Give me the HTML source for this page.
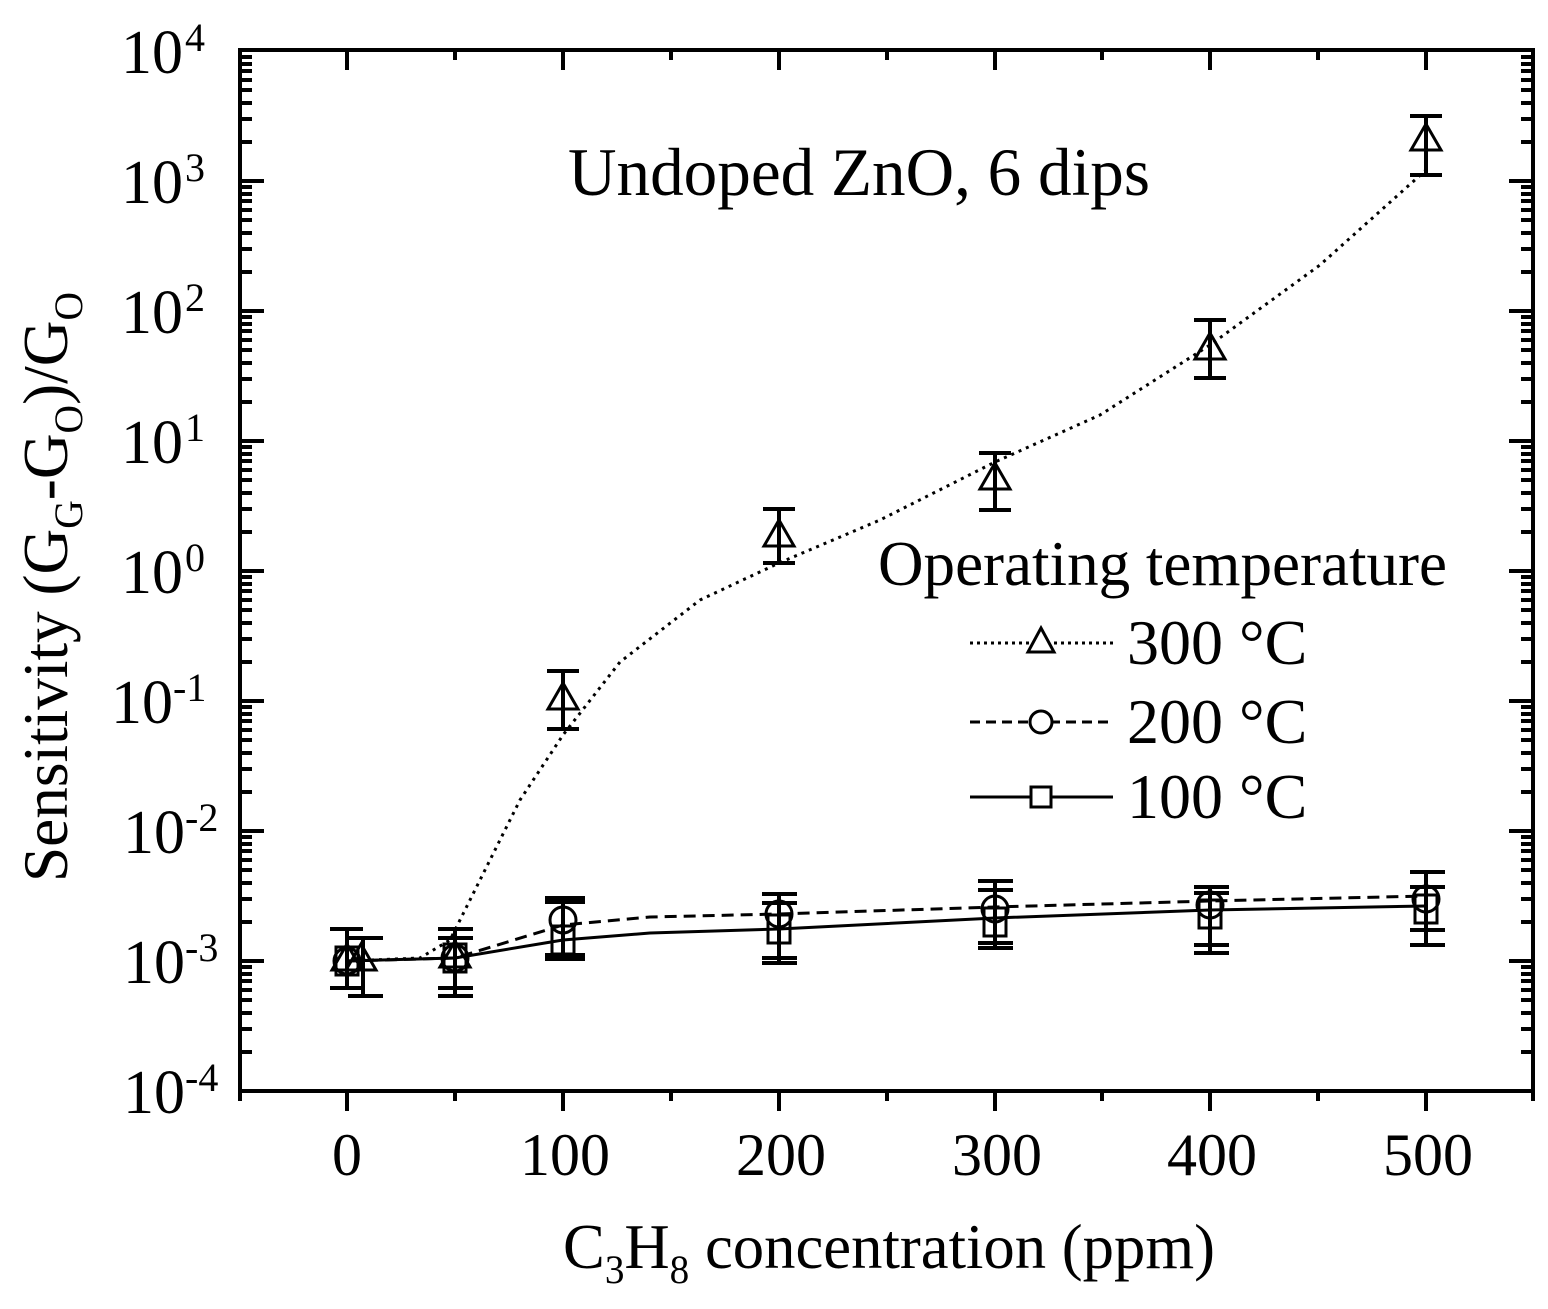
<!DOCTYPE html>
<html><head><meta charset="utf-8"><style>html,body{margin:0;padding:0;background:#fff}svg{display:block}</style></head>
<body>
<svg width="1548" height="1309" viewBox="0 0 1548 1309" xmlns="http://www.w3.org/2000/svg" font-family="'Liberation Serif', serif" fill="#000">
<defs>
  <path id="minL" d="M240 -39h12M240 -62h12M240 -78h12M240 -91h12M240 -101h12M240 -110h12M240 -117h12M240 -124h12" stroke="#000" stroke-width="4" fill="none"/>
  <path id="minR" d="M1533 -39h-12M1533 -62h-12M1533 -78h-12M1533 -91h-12M1533 -101h-12M1533 -110h-12M1533 -117h-12M1533 -124h-12" stroke="#000" stroke-width="4" fill="none"/>
</defs>
<!-- frame -->
<rect x="240" y="50" width="1293" height="1041" fill="none" stroke="#000" stroke-width="4"/>
<!-- minor log ticks -->
<g>
<use href="#minL" y="181"/><use href="#minL" y="311"/><use href="#minL" y="441"/><use href="#minL" y="571"/><use href="#minL" y="701"/><use href="#minL" y="831"/><use href="#minL" y="961"/><use href="#minL" y="1091"/>
<use href="#minR" y="181"/><use href="#minR" y="311"/><use href="#minR" y="441"/><use href="#minR" y="571"/><use href="#minR" y="701"/><use href="#minR" y="831"/><use href="#minR" y="961"/><use href="#minR" y="1091"/>
</g>
<!-- major y ticks -->
<path d="M240 181h24M240 311h24M240 441h24M240 571h24M240 701h24M240 831h24M240 961h24M1533 181h-24M1533 311h-24M1533 441h-24M1533 571h-24M1533 701h-24M1533 831h-24M1533 961h-24" stroke="#000" stroke-width="4"/>
<!-- x ticks bottom -->
<path d="M347 1091v20M563 1091v20M779 1091v20M995 1091v20M1210 1091v20M1426 1091v20M240 1091v10M455 1091v10M671 1091v10M887 1091v10M1102 1091v10M1318 1091v10M1533 1091v10" stroke="#000" stroke-width="4"/>
<!-- x ticks top -->
<path d="M347 50v20M563 50v20M779 50v20M995 50v20M1210 50v20M1426 50v20M455 50v10M671 50v10M887 50v10M1102 50v10M1318 50v10" stroke="#000" stroke-width="4"/>
<!-- y tick labels -->
<g font-size="62">
<text x="183" y="73" text-anchor="end">10</text><text x="185" y="51" font-size="40">4</text>
<text x="183" y="203" text-anchor="end">10</text><text x="185" y="181" font-size="40">3</text>
<text x="183" y="333" text-anchor="end">10</text><text x="185" y="311" font-size="40">2</text>
<text x="183" y="463" text-anchor="end">10</text><text x="185" y="441" font-size="40">1</text>
<text x="183" y="593" text-anchor="end">10</text><text x="185" y="571" font-size="40">0</text>
<text x="173" y="723" text-anchor="end">10</text><text x="173" y="701" font-size="40">-1</text>
<text x="185" y="853" text-anchor="end">10</text><text x="185" y="831" font-size="40">-2</text>
<text x="185" y="983" text-anchor="end">10</text><text x="185" y="961" font-size="40">-3</text>
<text x="185" y="1113" text-anchor="end">10</text><text x="185" y="1091" font-size="40">-4</text>
</g>
<!-- x tick labels -->
<g font-size="60" text-anchor="middle">
<text x="347" y="1175">0</text><text x="565" y="1175">100</text><text x="781" y="1175">200</text><text x="997" y="1175">300</text><text x="1212" y="1175">400</text><text x="1428" y="1175">500</text>
</g>
<!-- axis titles -->
<text x="563" y="1268" font-size="64" textLength="652" lengthAdjust="spacingAndGlyphs">C<tspan font-size="40" dy="15">3</tspan><tspan dy="-15">H</tspan><tspan font-size="40" dy="15">8</tspan><tspan dy="-15"> concentration (ppm)</tspan></text>
<text transform="translate(67,882) rotate(-90)" font-size="64" textLength="590" lengthAdjust="spacingAndGlyphs">Sensitivity (G<tspan font-size="40" dy="15">G</tspan><tspan dy="-15">-G</tspan><tspan font-size="40" dy="15">O</tspan><tspan dy="-15">)/G</tspan><tspan font-size="40" dy="15">O</tspan></text>
<!-- title -->
<text x="568" y="195" font-size="68" textLength="582" lengthAdjust="spacingAndGlyphs">Undoped ZnO, 6 dips</text>
<!-- legend -->
<text x="878" y="585" font-size="64" textLength="569" lengthAdjust="spacingAndGlyphs">Operating temperature</text>
<g font-size="64">
<text x="1127" y="664">300 °C</text>
<text x="1127" y="743">200 °C</text>
<text x="1127" y="818">100 °C</text>
</g>
<g fill="none" stroke="#000" stroke-width="3">
<line x1="970" y1="643" x2="1113" y2="643" stroke-dasharray="3,4"/>
<line x1="970" y1="722" x2="1113" y2="722" stroke-dasharray="10,6"/>
<line x1="970" y1="797" x2="1113" y2="797"/>
<path d="M1041 628 L1054 652 L1028 652 Z" fill="#fff"/>
<circle cx="1041" cy="722" r="11" fill="#fff"/>
<rect x="1031" y="787" width="20" height="20" fill="#fff"/>
</g>
<!-- curves -->
<g fill="none" stroke="#000" stroke-width="3" stroke-linejoin="round">
<polyline points="347,961 420,958 450,940 480,880 520,800 563,735 620,662 700,600 779,563 880,520 995,462 1100,415 1210,345 1320,265 1426,170" stroke-dasharray="3,5"/>
<polyline points="347,961 455,958 563,925 650,917 779,914 995,907 1210,901 1426,896" stroke-dasharray="12,7"/>
<polyline points="347,961 455,958 563,940 650,933 779,929 995,918 1210,910 1426,906"/>
</g>
<!-- error bars -->
<g stroke="#000" stroke-width="4" fill="none">
<path d="M347 929V988M330 929h33M330 988h33 M363 938V996M348 938h35M348 996h35"/>
<path d="M455 929V996M438 929h35M438 938h35M438 988h35M438 996h35"/>
<path d="M563 898V959M545 898h40M545 902h40M545 955h40M545 959h40"/>
<path d="M779 894V963M762 894h35M762 903h35M762 958h35M762 963h35"/>
<path d="M995 881V948M978 881h35M978 890h35M978 943h35M978 948h35"/>
<path d="M1210 887V953M1194 887h35M1194 893h35M1194 945h35M1194 953h35"/>
<path d="M1426 872V945M1410 872h35M1410 887h35M1410 930h35M1410 945h35"/>
<!-- 300C -->
<path d="M563 671V729M547 671h32M547 729h32"/>
<path d="M779 509V563M763 509h32M763 563h32"/>
<path d="M995 453V510M979 453h32M979 510h32"/>
<path d="M1210 320V378M1194 320h32M1194 378h32"/>
<path d="M1426 116V175M1410 116h32M1410 175h32"/>
</g>
<!-- markers -->
<g fill="none" stroke="#000" stroke-width="3">
<rect x="336" y="947" width="22" height="28"/><rect x="444" y="944" width="22" height="28"/><rect x="552" y="926" width="22" height="28"/><rect x="768" y="915" width="22" height="28"/><rect x="984" y="908" width="22" height="28"/><rect x="1199" y="900" width="22" height="28"/><rect x="1415" y="895" width="22" height="28"/>
<circle cx="347" cy="961" r="13"/><circle cx="455" cy="958" r="13"/><circle cx="563" cy="920" r="13"/><circle cx="779" cy="914" r="13"/><circle cx="995" cy="909" r="13"/><circle cx="1210" cy="905" r="13"/><circle cx="1426" cy="899" r="13"/>
<path d="M347 944L362 970H332Z M361 944L376 970H346Z M455 941L470 967H440Z M563 683L578 709H548Z M779 520L794 546H764Z M995 463L1010 489H980Z M1210 333L1225 359H1195Z M1426 124L1441 150H1411Z"/>
</g>
</svg>
</body></html>
